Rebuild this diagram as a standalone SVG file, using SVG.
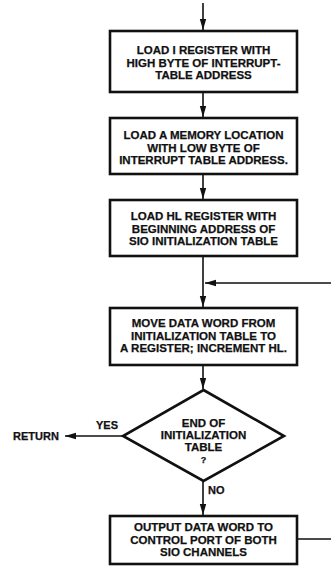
<svg xmlns="http://www.w3.org/2000/svg" width="331" height="570" viewBox="0 0 331 570">
<style>
.box{fill:#fff;stroke:#111;stroke-width:2.6}
.t{font-family:"Liberation Sans",Arial,Helvetica,sans-serif;font-weight:bold;font-size:11.5px;fill:#111;stroke:#111;stroke-width:0.25;text-anchor:middle}
.l{font-family:"Liberation Sans",Arial,Helvetica,sans-serif;font-weight:bold;font-size:11px;fill:#111;stroke:#111;stroke-width:0.25}
.c{fill:none;stroke:#111;stroke-width:1.6}
</style>
<defs>
<marker id="ah" viewBox="0 0 11 10" refX="11" refY="5" markerWidth="11" markerHeight="10" markerUnits="userSpaceOnUse" orient="auto">
<path d="M0,1.8 L11,5 L0,8.2 Z" fill="#111"/>
</marker>
</defs>
<rect width="331" height="570" fill="#fff"/>
<g id="connectors">
<line class="c" x1="203" y1="3" x2="203" y2="30" marker-end="url(#ah)"/>
<line class="c" x1="203" y1="93" x2="203" y2="117" marker-end="url(#ah)"/>
<line class="c" x1="203" y1="175" x2="203" y2="199" marker-end="url(#ah)"/>
<line class="c" x1="203" y1="257" x2="203" y2="307" marker-end="url(#ah)"/>
<line class="c" x1="203" y1="366" x2="203" y2="389" marker-end="url(#ah)"/>
<line class="c" x1="203" y1="481" x2="203" y2="515" marker-end="url(#ah)"/>
<line class="c" x1="123" y1="436" x2="65" y2="436" marker-end="url(#ah)"/>
<polyline class="c" points="298,539 334,539 334,283 205,283" marker-end="url(#ah)"/>
</g>
<g id="n1">
<rect class="box" x="110" y="31" width="187" height="61"/>
<text class="t" x="203.5" y="54">LOAD I REGISTER WITH</text>
<text class="t" x="203.5" y="66.5">HIGH BYTE OF INTERRUPT-</text>
<text class="t" x="203.5" y="79">TABLE ADDRESS</text>
</g>
<g id="n2">
<rect class="box" x="110" y="118" width="187" height="56"/>
<text class="t" x="203.5" y="139">LOAD A MEMORY LOCATION</text>
<text class="t" x="203.5" y="151.5">WITH LOW BYTE OF</text>
<text class="t" x="203.5" y="164">INTERRUPT TABLE ADDRESS.</text>
</g>
<g id="n3">
<rect class="box" x="110" y="200" width="187" height="56"/>
<text class="t" x="203.5" y="220">LOAD HL REGISTER WITH</text>
<text class="t" x="203.5" y="232.5">BEGINNING ADDRESS OF</text>
<text class="t" x="203.5" y="245">SIO INITIALIZATION TABLE</text>
</g>
<g id="n4">
<rect class="box" x="110" y="308" width="187" height="57"/>
<text class="t" x="203.5" y="327">MOVE DATA WORD FROM</text>
<text class="t" x="203.5" y="339.5">INITIALIZATION TABLE TO</text>
<text class="t" x="203.5" y="352">A REGISTER; INCREMENT HL.</text>
</g>
<g id="n5">
<polygon class="box" points="203.5,390 284,436 203.5,481 123,436"/>
<text class="t" x="203.5" y="427">END OF</text>
<text class="t" x="203.5" y="439">INITIALIZATION</text>
<text class="t" x="203.5" y="451">TABLE</text>
<text class="t" x="203.5" y="463" style="font-size:9px">?</text>
</g>
<g id="n6">
<rect class="box" x="110" y="516" width="187" height="48"/>
<text class="t" x="203.5" y="531">OUTPUT DATA WORD TO</text>
<text class="t" x="203.5" y="543.5">CONTROL PORT OF BOTH</text>
<text class="t" x="203.5" y="556">SIO CHANNELS</text>
</g>
<g id="labels">
<text class="l" x="13" y="440">RETURN</text>
<text class="l" x="96" y="429">YES</text>
<text class="l" x="208" y="494">NO</text>
</g>
</svg>
